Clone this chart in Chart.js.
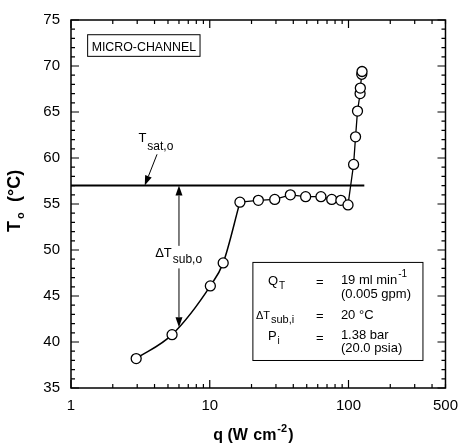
<!DOCTYPE html>
<html>
<head>
<meta charset="utf-8">
<script src="https://cdn.jsdelivr.net/npm/chart.js@4.4.1/dist/chart.umd.min.js"></script>
<style>
  body { margin: 0; background: #fff; }
  #wrap { width: 467px; height: 448px; }
</style>
</head>
<body>
<div id="wrap"><canvas id="chart"></canvas></div>
<script>
// heat flux q (W/cm2) and outlet temperature To (C)
const qFlux = [2.95, 5.35, 10.1, 12.5, 16.5, 22.4, 29.4, 38.1, 49.1, 63.3, 75.7, 88.1, 99.2, 108.8, 112.4, 116.1, 121.2, 121.7, 124.6, 125.2];
const tOutlet = [38.2, 40.8, 46.1, 48.6, 55.2, 55.4, 55.5, 56.0, 55.8, 55.8, 55.5, 55.4, 54.9, 59.3, 62.3, 65.1, 67.0, 67.6, 69.1, 69.4];
// the low-flux part is a smooth fitted curve, the rest is joined point to point
const smoothUpTo = 5;

// saturation temperature line
const satQ = [1, 130];
const satT = [57, 57];

// axis ticks
const xTickValues = [1, 10, 100, 500];
const yMin = 35, yMax = 75, yStep = 5;

const FONT = "'Liberation Sans', Arial, Helvetica, sans-serif";

const pts = qFlux.map((q, i) => ({ x: q, y: tOutlet[i] }));

// little helpers for text with sub / superscripts
function subText(ctx, main, sub, x, y, size, subSize, dy) {
  ctx.font = size + "px " + FONT;
  ctx.fillText(main, x, y);
  let w = ctx.measureText(main).width;
  ctx.font = subSize + "px " + FONT;
  ctx.fillText(sub, x + w + 1, y + dy);
}

function arrow(ctx, x0, y0, x1, y1) {
  let ang = Math.atan2(y1 - y0, x1 - x0);
  let len = 10, half = 3.5;
  ctx.beginPath();
  ctx.moveTo(x0, y0);
  ctx.lineTo(x1 - Math.cos(ang) * len, y1 - Math.sin(ang) * len);
  ctx.stroke();
  ctx.beginPath();
  ctx.moveTo(x1, y1);
  ctx.lineTo(x1 - Math.cos(ang) * len - Math.sin(ang) * half, y1 - Math.sin(ang) * len + Math.cos(ang) * half);
  ctx.lineTo(x1 - Math.cos(ang) * len + Math.sin(ang) * half, y1 - Math.sin(ang) * len - Math.cos(ang) * half);
  ctx.closePath();
  ctx.fill();
}

const decor = {
  id: "decor",
  afterDraw(chart) {
    const { ctx, chartArea: a, scales: { x, y } } = chart;
    const P = (q, t) => [x.getPixelForValue(q), y.getPixelForValue(t)];
    ctx.save();
    ctx.strokeStyle = "#000";
    ctx.fillStyle = "#000";

    // frame
    ctx.lineWidth = 1.5;
    ctx.strokeRect(a.left, a.top, a.right - a.left, a.bottom - a.top);

    // inward ticks, all four sides
    ctx.lineWidth = 1.2;
    ctx.beginPath();
    for (let d = 1; d <= 100; d *= 10) {
      for (let m = 1; m <= 9; m++) {
        let v = d * m;
        if (v > 500) break;
        let px = x.getPixelForValue(v);
        let len = m === 1 ? 8 : 4;
        ctx.moveTo(px, a.bottom); ctx.lineTo(px, a.bottom - len);
        ctx.moveTo(px, a.top); ctx.lineTo(px, a.top + len);
      }
    }
    for (let v = yMin; v <= yMax; v++) {
      let py = y.getPixelForValue(v);
      let len = v % yStep === 0 ? 8 : 4;
      ctx.moveTo(a.left, py); ctx.lineTo(a.left + len, py);
      ctx.moveTo(a.right, py); ctx.lineTo(a.right - len, py);
    }
    ctx.stroke();

    ctx.textBaseline = "alphabetic";
    ctx.textAlign = "left";

    // MICRO-CHANNEL box
    let [bx0, by0] = P(1.318, 73.4);
    let [bx1, by1] = P(8.51, 71.05);
    ctx.lineWidth = 1;
    ctx.strokeRect(bx0, by0, bx1 - bx0, by1 - by0);
    ctx.font = "13px " + FONT;
    ctx.textAlign = "center";
    ctx.fillText("MICRO-CHANNEL", (bx0 + bx1) / 2, by1 - 5, bx1 - bx0 - 8);
    ctx.textAlign = "left";

    // T sat,o label and arrow
    let [tx, ty] = P(3.06, 61.77);
    subText(ctx, "T", "sat,o", tx, ty, 13, 12, 8);
    ctx.lineWidth = 1;
    let [ax0, ay0] = P(4.17, 60.4);
    let [ax1, ay1] = P(3.40, 57);
    arrow(ctx, ax0, ay0, ax1, ay1);

    // delta T sub,o double arrow with gap for the label
    let [dx, dTop] = P(6.0, 57);
    let [, dBot] = P(6.0, 41.6);
    let [, gTop] = P(6.0, 50.45);
    let [, gBot] = P(6.0, 48.0);
    arrow(ctx, dx, gTop, dx, dTop);
    arrow(ctx, dx, gBot, dx, dBot);
    let [lx, ly] = P(4.04, 49.2);
    subText(ctx, "\u0394T", "sub,o", lx, ly, 13, 12, 6);

    // conditions box
    let [ix0, iy0] = P(20.46, 48.65);
    let [ix1, iy1] = P(344, 37.99);
    ctx.fillStyle = "#fff";
    ctx.fillRect(ix0, iy0, ix1 - ix0, iy1 - iy0);
    ctx.fillStyle = "#000";
    ctx.lineWidth = 1;
    ctx.strokeRect(ix0, iy0, ix1 - ix0, iy1 - iy0);
    subText(ctx, "Q", "T", ix0 + 15, iy0 + 23, 13, 10, 4);
    subText(ctx, "\u0394T", "sub,i", ix0 + 3, iy0 + 57, 11, 11, 4);
    subText(ctx, "P", "i", ix0 + 15, iy0 + 78, 13, 10, 4);
    ctx.font = "13px " + FONT;
    ctx.fillText("=", ix0 + 63, iy0 + 24);
    ctx.fillText("=", ix0 + 63, iy0 + 58);
    ctx.fillText("=", ix0 + 63, iy0 + 80);
    ctx.fillText("19 ml min", ix0 + 88, iy0 + 22);
    let w = ctx.measureText("19 ml min").width;
    ctx.font = "10px " + FONT;
    ctx.fillText("-1", ix0 + 89 + w, iy0 + 15);
    ctx.font = "13px " + FONT;
    ctx.fillText("(0.005 gpm)", ix0 + 88, iy0 + 36);
    ctx.fillText("20 \u00B0C", ix0 + 88, iy0 + 57);
    ctx.fillText("1.38 bar", ix0 + 88, iy0 + 77);
    ctx.fillText("(20.0 psia)", ix0 + 88, iy0 + 90);

    // x axis title  q (W cm-2)
    let cx = (a.left + a.right) / 2;
    let base = a.bottom + 52;
    ctx.font = "bold 16px " + FONT;
    ctx.fillText("q (W", cx - 45, base);
    ctx.fillText("cm", cx - 5, base);
    let cw = ctx.measureText("cm").width;
    ctx.font = "bold 11px " + FONT;
    ctx.fillText("-2", cx - 4 + cw, base - 8);
    let sw = ctx.measureText("-2").width;
    ctx.font = "bold 16px " + FONT;
    ctx.fillText(")", cx - 3 + cw + sw, base);

    // y axis title  To (C), rotated
    ctx.save();
    ctx.translate(20, 232);
    ctx.rotate(-Math.PI / 2);
    ctx.font = "bold 18px " + FONT;
    ctx.fillText("T", 0, 0);
    ctx.font = "bold 11px " + FONT;
    ctx.fillText("o", 13, 4);
    ctx.font = "bold 18px " + FONT;
    ctx.fillText("(\u00B0C)", 30, 0);
    ctx.restore();

    ctx.restore();
  }
};

new Chart(document.getElementById("chart"), {
  type: "line",
  data: {
    datasets: [
      {
        // markers on top
        label: "To",
        data: pts,
        showLine: false,
        pointRadius: 5,
        pointBackgroundColor: "#fff",
        pointBorderColor: "#000",
        pointBorderWidth: 1.3,
      },
      {
        label: "fit",
        data: pts.slice(0, smoothUpTo),
        borderColor: "#000",
        borderWidth: 1.5,
        cubicInterpolationMode: "monotone",
        pointRadius: 0,
      },
      {
        label: "joined",
        data: pts.slice(smoothUpTo - 1),
        borderColor: "#000",
        borderWidth: 1.3,
        tension: 0,
        pointRadius: 0,
      },
      {
        label: "Tsat",
        data: satQ.map((q, i) => ({ x: q, y: satT[i] })),
        borderColor: "#000",
        borderWidth: 2,
        pointRadius: 0,
      },
    ],
  },
  options: {
    responsive: true,
    maintainAspectRatio: false,
    animation: false,
    layout: { padding: { top: 13, right: 13, left: 0, bottom: 0 } },
    plugins: { legend: { display: false }, tooltip: { enabled: false } },
    scales: {
      x: {
        type: "logarithmic",
        min: 1,
        max: 500,
        grid: { display: false, drawTicks: false },
        border: { display: false },
        afterBuildTicks: (s) => { s.ticks = xTickValues.map((v) => ({ value: v })); },
        afterFit: (s) => { s.height = 60; },
        ticks: {
          color: "#000",
          font: { family: FONT, size: 15 },
          padding: 9,
          maxRotation: 0,
          autoSkip: false,
          callback: (v) => String(v),
        },
      },
      y: {
        min: yMin,
        max: yMax,
        grid: { display: false, drawTicks: false },
        border: { display: false },
        afterFit: (s) => { s.width = 71; },
        ticks: {
          stepSize: yStep,
          color: "#000",
          font: { family: FONT, size: 15 },
          padding: 11,
        },
      },
    },
  },
  plugins: [decor],
});
</script>
</body>
</html>
